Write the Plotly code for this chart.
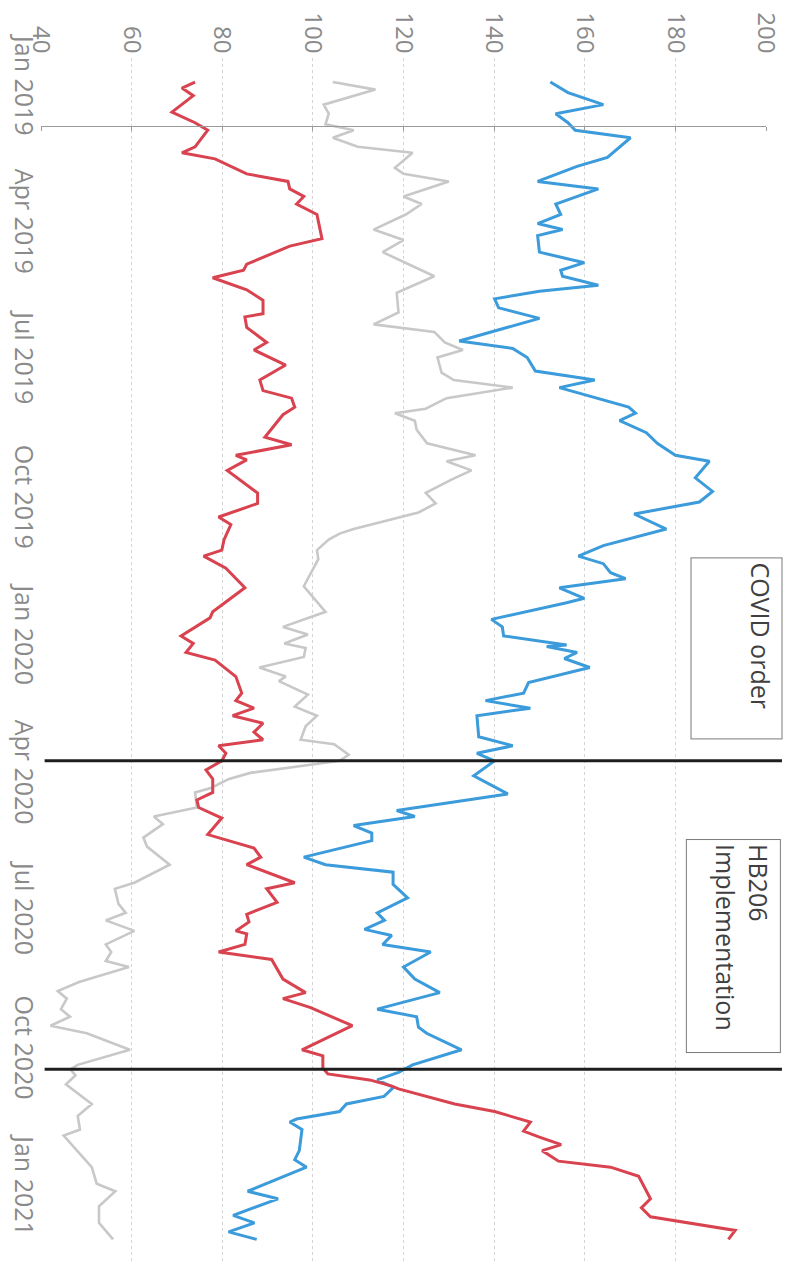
import plotly.graph_objects as go
import pandas as pd

# ---------------- data ----------------
red_dates = ["2018-12-27","2018-12-31","2019-01-05","2019-01-16","2019-01-23","2019-01-28","2019-02-08","2019-02-12","2019-02-16","2019-02-26",
             "2019-03-03","2019-03-08","2019-03-13","2019-03-18","2019-03-25","2019-04-10","2019-04-15","2019-04-27","2019-05-01","2019-05-06",
             "2019-05-14","2019-05-21","2019-05-30","2019-06-01","2019-06-08","2019-06-18","2019-06-23","2019-07-03","2019-07-13","2019-07-20",
             "2019-07-25","2019-07-31","2019-08-05","2019-08-20","2019-08-25","2019-09-01","2019-09-04","2019-09-11","2019-09-26","2019-10-03",
             "2019-10-12","2019-10-17","2019-10-27","2019-11-03","2019-11-07","2019-11-15","2019-11-28","2019-12-14","2019-12-18","2019-12-30",
             "2020-01-04","2020-01-10","2020-01-15","2020-01-26","2020-02-06","2020-02-11","2020-02-16","2020-02-21","2020-02-26","2020-03-03",
             "2020-03-08","2020-03-12","2020-03-17","2020-03-22","2020-03-28","2020-04-03","2020-04-12","2020-04-17","2020-04-22","2020-04-29",
             "2020-05-10","2020-05-19","2020-05-25","2020-05-30","2020-06-11","2020-06-15","2020-06-24","2020-07-02","2020-07-07","2020-07-13",
             "2020-07-15","2020-07-22","2020-07-27","2020-08-01","2020-08-14","2020-08-23","2020-08-27","2020-09-02","2020-09-14","2020-09-30",
             "2020-10-04","2020-10-12","2020-10-16","2020-10-20","2020-10-24","2020-10-26","2020-11-05","2020-11-10","2020-11-17","2020-11-23",
             "2020-11-27","2020-12-02","2020-12-06","2020-12-13","2020-12-17","2020-12-23","2021-01-07","2021-01-13","2021-01-19","2021-01-24",
             "2021-01-28","2021-02-03"]
red_values = [74.0,71.1,73.6,68.9,74.0,76.8,74.0,71.1,78.4,85.4,
              94.5,94.9,98.0,96.4,100.9,102.0,94.9,85.4,84.7,77.9,
              85.4,89.0,89.0,85.0,85.4,89.8,87.0,94.0,88.3,89.0,
              95.3,96.0,93.4,89.4,95.3,83.0,85.4,81.1,87.8,87.8,
              79.2,81.9,80.4,79.9,75.9,80.8,85.0,77.9,77.3,70.9,
              73.6,72.0,78.4,83.0,84.3,83.0,87.0,82.3,89.0,87.0,
              89.0,79.2,80.8,79.9,76.4,77.9,77.9,74.4,74.8,79.9,
              76.8,87.0,88.5,85.4,96.0,89.8,92.1,85.4,85.9,83.0,
              85.4,85.0,79.2,90.9,93.4,98.4,93.4,99.5,108.7,97.6,
              102.2,102.2,103.3,112.5,117.3,118.9,131.3,140.1,148.0,146.5,
              150.0,154.8,150.6,154.2,165.7,171.9,174.5,172.5,174.5,185.5,
              193.2,191.7]

blue_dates = ["2018-12-27","2019-01-03","2019-01-11","2019-01-17","2019-01-23","2019-01-28","2019-02-02","2019-02-15","2019-02-21","2019-03-03",
              "2019-03-08","2019-03-18","2019-03-25","2019-03-31","2019-04-04","2019-04-08","2019-04-19","2019-04-26","2019-05-01","2019-05-05",
              "2019-05-11","2019-05-15","2019-05-20","2019-05-26","2019-06-02","2019-06-17","2019-06-22","2019-06-28","2019-07-07","2019-07-13",
              "2019-07-18","2019-07-31","2019-08-04","2019-08-09","2019-08-17","2019-08-24","2019-09-01","2019-09-05","2019-09-16","2019-09-25",
              "2019-10-02","2019-10-10","2019-10-20","2019-10-31","2019-11-07","2019-11-12","2019-11-18","2019-11-22","2019-11-28","2019-12-05",
              "2019-12-08","2019-12-19","2019-12-24","2019-12-30","2020-01-05","2020-01-06","2020-01-10","2020-01-14","2020-01-20","2020-01-30",
              "2020-02-06","2020-02-11","2020-02-16","2020-02-21","2020-03-06","2020-03-12","2020-03-17","2020-03-22","2020-04-01","2020-04-13",
              "2020-04-24","2020-04-28","2020-05-04","2020-05-09","2020-05-14","2020-05-25","2020-05-30","2020-06-04","2020-06-12","2020-06-21",
              "2020-07-01","2020-07-06","2020-07-12","2020-07-16","2020-07-22","2020-07-27","2020-08-06","2020-08-14","2020-08-23","2020-09-03",
              "2020-09-08","2020-09-15","2020-09-19","2020-09-30","2020-10-10","2020-10-15","2020-10-20","2020-10-25","2020-10-31","2020-11-05",
              "2020-11-10","2020-11-15","2020-11-17","2020-11-22","2020-12-06","2020-12-12","2020-12-17","2021-01-02","2021-01-07","2021-01-16",
              "2021-01-18","2021-01-23","2021-01-29","2021-02-03"]
blue_values = [152.4,156.3,164.1,153.6,156.3,157.9,170.1,165.0,158.3,149.6,
               163.0,153.6,154.7,149.6,155.1,149.6,150.0,159.9,154.7,155.1,
               163.0,150.0,140.1,141.0,150.0,132.3,144.1,147.3,149.1,162.2,
               154.4,169.7,171.2,167.7,173.6,176.0,180.0,187.5,184.4,188.2,
               185.3,170.9,178.0,164.1,158.6,164.1,165.7,169.0,154.4,159.9,
               156.0,139.4,141.8,142.1,156.0,151.6,158.3,155.5,161.1,147.6,
               146.5,138.1,148.0,136.2,136.6,144.1,136.2,140.1,135.5,143.0,
               118.5,122.5,109.0,113.0,113.0,98.0,102.8,117.7,117.7,120.9,
               114.2,115.8,111.4,117.4,115.4,126.0,120.0,122.5,128.0,114.2,
               122.9,123.3,125.1,132.8,122.0,118.9,114.2,117.8,115.7,107.4,
               105.9,96.4,94.9,97.6,97.0,96.0,98.6,85.6,92.3,84.5,
               82.4,87.1,81.4,87.6]

gray_dates = ["2018-12-27","2019-01-01","2019-01-11","2019-01-17","2019-01-24","2019-01-28","2019-02-02","2019-02-08","2019-02-12","2019-02-22",
              "2019-02-26","2019-03-03","2019-03-13","2019-03-18","2019-03-25","2019-04-04","2019-04-11","2019-04-19","2019-05-05","2019-05-16",
              "2019-05-29","2019-06-06","2019-06-11","2019-06-18","2019-06-23","2019-06-28","2019-07-08","2019-07-13","2019-07-18","2019-07-25",
              "2019-08-01","2019-08-04","2019-08-09","2019-08-15","2019-08-24","2019-09-01","2019-09-05","2019-09-11","2019-09-17","2019-09-26",
              "2019-10-03","2019-10-09","2019-10-20","2019-10-23","2019-10-27","2019-11-03","2019-11-09","2019-11-27","2019-12-14","2019-12-24",
              "2019-12-29","2020-01-04","2020-01-07","2020-01-13","2020-01-20","2020-01-26","2020-01-29","2020-02-07","2020-02-15","2020-02-21",
              "2020-02-28","2020-03-08","2020-03-11","2020-03-18","2020-03-22","2020-03-30","2020-04-03","2020-04-09","2020-04-12","2020-04-22",
              "2020-04-28","2020-05-03","2020-05-12","2020-05-18","2020-05-30","2020-06-11","2020-06-15","2020-06-25","2020-07-01","2020-07-06",
              "2020-07-13","2020-07-22","2020-07-27","2020-08-02","2020-08-06","2020-08-16","2020-08-22","2020-08-27","2020-09-03","2020-09-08",
              "2020-09-14","2020-09-19","2020-09-30","2020-10-10","2020-10-13","2020-10-17","2020-10-23","2020-11-05","2020-11-13","2020-11-22",
              "2020-11-26","2020-12-12","2020-12-17","2020-12-28","2021-01-02","2021-01-12","2021-01-23","2021-02-03"]
gray_values = [104.4,113.8,102.4,103.5,102.8,109.0,104.4,109.9,122.0,118.1,
               120.0,130.0,120.0,124.0,120.5,113.4,120.0,115.4,126.8,118.5,
               118.9,113.4,126.8,129.1,133.1,127.5,128.4,131.1,144.1,129.5,
               124.9,118.1,122.5,122.9,125.2,135.9,129.5,135.0,130.7,124.9,
               127.1,123.3,109.0,105.9,103.5,100.9,101.2,98.0,102.8,93.4,
               98.9,93.7,98.4,98.0,88.2,94.0,92.5,98.9,96.0,100.9,
               98.4,97.3,104.7,107.9,105.9,86.2,81.5,77.5,74.0,74.4,
               64.9,66.9,62.6,63.4,68.4,60.6,56.3,57.1,58.7,54.3,
               60.6,54.3,55.5,54.3,59.4,48.4,43.7,45.7,44.4,46.4,
               42.1,50.1,59.6,48.1,46.5,47.6,45.5,51.2,48.1,48.6,
               45.0,49.7,51.2,52.3,56.4,52.8,52.8,55.9]

value_ticks = [40, 60, 80, 100, 120, 140, 160, 180, 200]
date_ticks = ["2019-01-01","2019-04-01","2019-07-01","2019-10-01","2020-01-01",
              "2020-04-01","2020-07-01","2020-10-01","2021-01-01"]
date_tick_labels = ["Jan 2019","Apr 2019","Jul 2019","Oct 2019","Jan 2020",
                    "Apr 2020","Jul 2020","Oct 2020","Jan 2021"]
event_dates = ["2020-03-22", "2020-10-13"]
event_labels = ["COVID order", "HB206<br>Implementation"]
event_label_dates = ["2020-01-07", "2020-07-23"]
event_label_values = [193.5, 192.7]
date_range = ["2018-12-11", "2021-02-18"]
axis_cross_date = "2019-01-25"

# ---------------- figure ----------------
FONT = "Open Sans"
TICK_COLOR = "#8a8a8a"

fig = go.Figure()
fig.add_trace(go.Scatter(x=gray_values, y=gray_dates, mode="lines",
                         line=dict(color="#c8c8c8", width=2.6), showlegend=False))
fig.add_trace(go.Scatter(x=blue_values, y=blue_dates, mode="lines",
                         line=dict(color="#3b9bdb", width=3), showlegend=False))
fig.add_trace(go.Scatter(x=red_values, y=red_dates, mode="lines",
                         line=dict(color="#d9424f", width=3), showlegend=False))
# helper trace for the crossing value-axis line
fig.add_trace(go.Scatter(x=[value_ticks[0]], y=[axis_cross_date], xaxis="x2",
                         mode="lines", showlegend=False, hoverinfo="skip"))

t0 = pd.Timestamp(date_range[0]); t1 = pd.Timestamp(date_range[1])
tc = pd.Timestamp(axis_cross_date)
cross_pos = (t1 - tc) / (t1 - t0)

fig.update_layout(
    width=788, height=1275,
    margin=dict(l=41, r=22, t=58, b=13, autoexpand=False),
    paper_bgcolor="white", plot_bgcolor="white",
    font=dict(family=FONT, color=TICK_COLOR),
    xaxis=dict(range=[40, 200], side="top", tickvals=value_ticks, tickangle=90,
               tickfont=dict(size=24, color=TICK_COLOR), showgrid=True,
               gridcolor="#d4d4d4", griddash="dot", gridwidth=1, automargin=False,
               zeroline=False, showline=False, ticks=""),
    xaxis2=dict(range=[40, 200], overlaying="x", anchor="free", position=cross_pos,
                side="bottom", tickvals=value_ticks, showticklabels=False,
                ticks="outside", ticklen=4, tickcolor="#9a9a9a", tickwidth=1,
                showline=True, linecolor="#9a9a9a", linewidth=1, showgrid=False,
                zeroline=False, automargin=False),
    yaxis=dict(type="date", range=[date_range[1], date_range[0]],
               tickvals=date_ticks, ticktext=date_tick_labels, tickangle=90,
               tickfont=dict(size=25, color=TICK_COLOR), showgrid=False,
               zeroline=False, showline=False, ticks="", automargin=False),
)

for d in event_dates:
    fig.add_shape(type="line", xref="paper", yref="y", x0=0.005, x1=1.022,
                  y0=d, y1=d, line=dict(color="#1e1e1e", width=3), layer="above")

box_sizes = [(172, 82), (204, 85)]
for lab, d, v, (w, h) in zip(event_labels, event_label_dates, event_label_values, box_sizes):
    fig.add_annotation(x=v, y=d, xref="x", yref="y", text=lab, showarrow=False,
                       textangle=90, width=w, height=h, align="left", valign="top",
                       bordercolor="#7a7a7a", borderwidth=1, borderpad=4,
                       bgcolor="white", font=dict(family=FONT, size=25, color="#404040"),
                       xanchor="center", yanchor="middle")

fig.write_html("out.html", config={"displayModeBar": False},
               post_script="document.body.style.margin='0';document.body.style.overflow='hidden';")
